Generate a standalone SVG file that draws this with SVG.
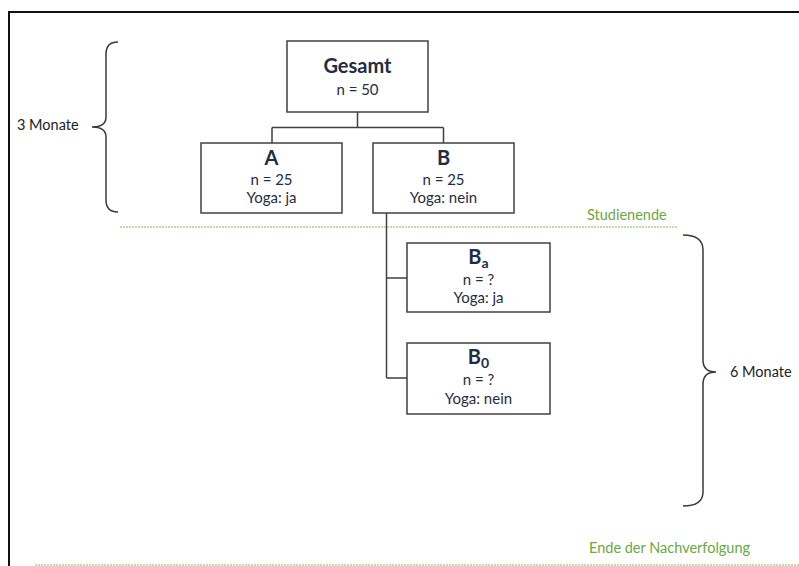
<svg xmlns="http://www.w3.org/2000/svg" width="799" height="566" viewBox="0 0 799 566">
<style>
.box{fill:#fff;stroke:#404040;stroke-width:1.5}
.conn{fill:none;stroke:#404040;stroke-width:1.5}
.brace{fill:none;stroke:#3a3a3a;stroke-width:1.5}
.title{font-family:Lato,"Liberation Sans",sans-serif;font-weight:bold;font-size:20px;fill:#1f2d45;text-anchor:middle}
.body{font-family:Lato,"Liberation Sans",sans-serif;font-size:15px;fill:#1f2d45;text-anchor:middle}
.side{font-family:Lato,"Liberation Sans",sans-serif;font-size:14.5px;fill:#222}
.green{font-family:Lato,"Liberation Sans",sans-serif;font-size:14.5px;fill:#6aa842}
.dash{stroke:#84b95f;stroke-width:1.2;stroke-dasharray:2 1;fill:none}
</style>
<rect x="9" y="12" width="820" height="600" fill="#fff" stroke="#111" stroke-width="2"/>
<g id="connectors">
<path class="conn" d="M357.5,112 V127.5 M272,127.5 H443.5 M272,127.5 V143 M443.5,127.5 V143"/>
<path class="conn" d="M386.5,213 V378 M386.5,278 H407 M386.5,378 H407"/>
</g>
<g id="gesamt">
<rect class="box" x="287" y="41" width="141" height="71"/>
<text class="title" x="357.5" y="73">Gesamt</text>
<text class="body" x="357.5" y="95">n = 50</text>
</g>
<g id="A">
<rect class="box" x="201" y="143" width="141" height="70"/>
<text class="title" x="271.5" y="165">A</text>
<text class="body" x="271.5" y="185">n = 25</text>
<text class="body" x="271.5" y="203">Yoga: ja</text>
</g>
<g id="B">
<rect class="box" x="373" y="143" width="141" height="70"/>
<text class="title" x="443.5" y="165">B</text>
<text class="body" x="443.5" y="185">n = 25</text>
<text class="body" x="443.5" y="203">Yoga: nein</text>
</g>
<g id="Ba">
<rect class="box" x="407" y="243" width="143" height="69"/>
<text class="title" x="478.5" y="264">B<tspan font-size="14" dy="4">a</tspan></text>
<text class="body" x="478.5" y="285">n = ?</text>
<text class="body" x="478.5" y="303">Yoga: ja</text>
</g>
<g id="B0">
<rect class="box" x="407" y="343" width="143" height="71"/>
<text class="title" x="478.5" y="364">B<tspan font-size="14" dy="4">0</tspan></text>
<text class="body" x="478.5" y="385">n = ?</text>
<text class="body" x="478.5" y="404">Yoga: nein</text>
</g>
<g id="brace-3">
<path class="brace" d="M118,42 Q106,42 106,54 V117 Q106,127 92,127 Q106,127 106,137 V200 Q106,212 118,212"/>
<text class="side" x="17" y="130">3 Monate</text>
</g>
<g id="brace-6">
<path class="brace" d="M683,235 Q703,235 703,250 V360 Q703,372 716,372 Q703,372 703,384 V492 Q703,506 683,506"/>
<text class="side" x="730" y="377">6 Monate</text>
</g>
<g id="studienende">
<line class="dash" x1="120" y1="227" x2="677" y2="227"/>
<text class="green" x="587" y="220">Studienende</text>
</g>
<g id="ende">
<line class="dash" x1="35" y1="565" x2="799" y2="565"/>
<text class="green" x="589" y="553">Ende der Nachverfolgung</text>
</g>
</svg>
